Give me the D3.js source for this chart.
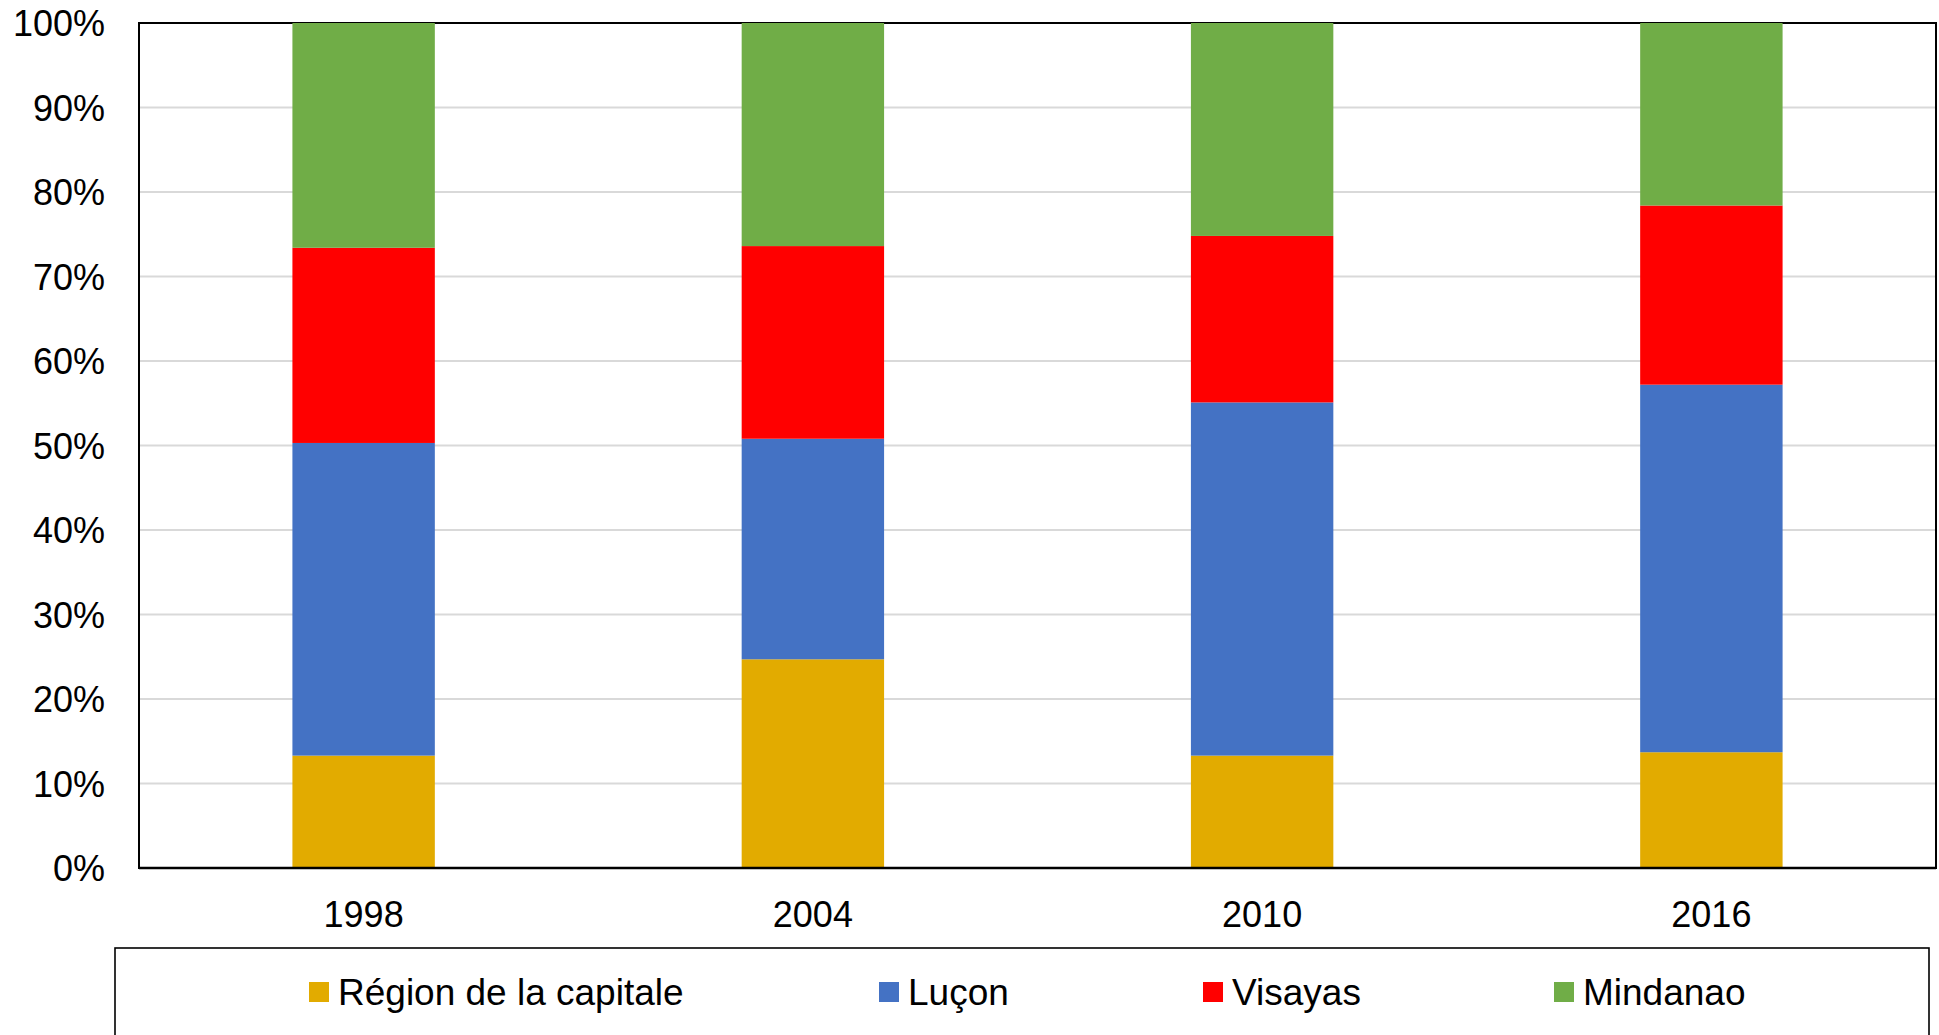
<!DOCTYPE html>
<html lang="fr">
<head>
<meta charset="UTF-8">
<title>Répartition par région</title>
<script src="https://d3js.org/d3.v7.min.js"></script>
<style>
  body { margin: 0; background: #fff; }
  svg text { font-family: "Liberation Sans", Arial, sans-serif; fill: #000; }
</style>
</head>
<body>
<svg width="1939" height="1035"></svg>
<script>
const years = ["1998", "2004", "2010", "2016"];
const capitale = [13.3, 24.7, 13.3, 13.7];
const lucon    = [37.0, 26.1, 41.8, 43.5];
const visayas  = [23.1, 22.8, 19.7, 21.2];
const mindanao = [26.6, 26.4, 25.2, 21.6];
const seriesNames = ["Région de la capitale", "Luçon", "Visayas", "Mindanao"];
const colors = ["#e2ab00", "#4472c4", "#ff0000", "#70ad47"];
const yTicks = [0, 0.1, 0.2, 0.3, 0.4, 0.5, 0.6, 0.7, 0.8, 0.9, 1];

const svg = d3.select("svg");
const plotLeft = 139, plotRight = 1936, plotTop = 23, plotBottom = 868;

// build rows as shares of the total for a 100% stack
const series = [capitale, lucon, visayas, mindanao];
const rows = years.map((yr, i) => {
    const row = { year: yr };
    const total = d3.sum(series, s => s[i]);
    seriesNames.forEach((k, j) => row[k] = series[j][i] / total);
    return row;
});
const stacked = d3.stack().keys(seriesNames)(rows);

const x = d3.scaleBand().domain(years).range([plotLeft, plotRight])
    .paddingInner(0.683).paddingOuter(0.3415);
const y = d3.scaleLinear().domain([0, 1]).range([plotBottom, plotTop]);

// grid
svg.append("g").selectAll("line")
    .data(yTicks.slice(1, -1))
    .enter().append("line")
    .attr("x1", plotLeft).attr("x2", plotRight)
    .attr("y1", d => y(d)).attr("y2", d => y(d))
    .attr("stroke", "#d9d9d9").attr("stroke-width", 2);

// plot border
svg.append("rect")
    .attr("x", plotLeft).attr("y", plotTop)
    .attr("width", plotRight - plotLeft).attr("height", plotBottom - plotTop)
    .attr("fill", "none").attr("stroke", "#000").attr("stroke-width", 2);

// bars
svg.append("g").selectAll("g")
    .data(stacked)
    .enter().append("g")
    .attr("fill", (d, i) => colors[i])
    .selectAll("rect")
    .data(d => d)
    .enter().append("rect")
    .attr("x", d => x(d.data.year))
    .attr("width", x.bandwidth())
    .attr("y", d => y(d[1]))
    .attr("height", d => y(d[0]) - y(d[1]));

// bottom axis line over the bars
svg.append("line")
    .attr("x1", plotLeft).attr("x2", plotRight)
    .attr("y1", plotBottom).attr("y2", plotBottom)
    .attr("stroke", "#000").attr("stroke-width", 2.5);

// y axis labels
const yAxis = svg.append("g")
    .attr("transform", `translate(${plotLeft},0)`)
    .call(d3.axisLeft(y).tickValues(yTicks).tickFormat(d3.format(".0%")).tickSize(0).tickPadding(34));
yAxis.select(".domain").remove();
yAxis.selectAll("text").attr("font-size", 36).attr("font-family", null).attr("dy", "0.35em");

// x axis labels
const xAxis = svg.append("g")
    .attr("transform", `translate(0,${plotBottom})`)
    .call(d3.axisBottom(x).tickSize(0).tickPadding(33));
xAxis.select(".domain").remove();
xAxis.selectAll("text").attr("font-size", 36).attr("font-family", null).attr("dy", "0.71em");

// legend
svg.append("rect")
    .attr("x", 115).attr("y", 948)
    .attr("width", 1814).attr("height", 120)
    .attr("fill", "none").attr("stroke", "#000").attr("stroke-width", 1.6);

const legendX = [309, 879, 1203, 1554];
const legend = svg.append("g").selectAll("g")
    .data(seriesNames)
    .enter().append("g")
    .attr("transform", (d, i) => `translate(${legendX[i]},982)`);
legend.append("rect")
    .attr("width", 20).attr("height", 20)
    .attr("fill", (d, i) => colors[i]);
legend.append("text")
    .attr("x", 29).attr("y", 23)
    .attr("font-size", 37)
    .text(d => d);
</script>
</body>
</html>
